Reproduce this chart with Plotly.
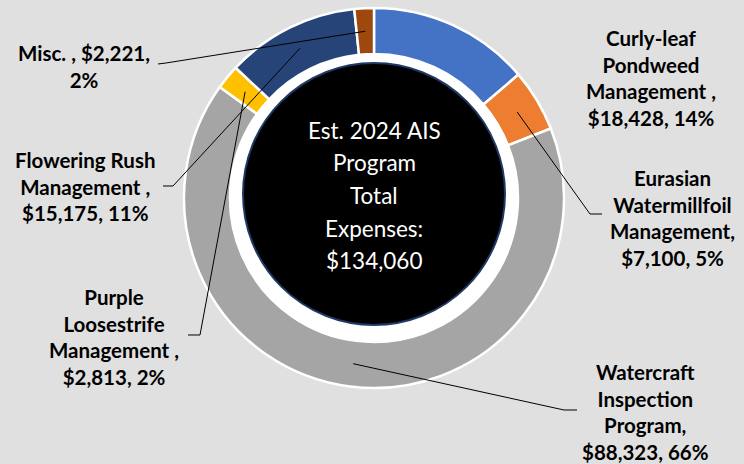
import math
import plotly.graph_objects as go

# ---------------- data ----------------
categories = ["Curly-leaf Pondweed Management ", "Eurasian Watermillfoil Management",
              "Watercraft Inspection Program", "Purple Loosestrife Management ",
              "Flowering Rush Management ", "Misc. "]
values = [18428, 7100, 88323, 2813, 15175, 2221]
colors = ["#4472C4", "#ED7D31", "#A5A5A5", "#FFC000", "#264478", "#9E480E"]
center_lines = ["Est. 2024 AIS", "Program", "Total", "Expenses:", "$134,060"]

# ---------------- layout helpers ----------------
W, H = 744, 464
CX, CY, R_OUT, R_IN = 374, 198, 190, 144


def px(x):
    return x / W


def py(y):
    return 1 - y / H


total = sum(values)
pcts = [round(v / total * 100) for v in values]

label_text = [
    "Curly-leaf<br>Pondweed<br>Management ,<br>${:,}, {}%".format(values[0], pcts[0]),
    "Eurasian<br>Watermillfoil<br>Management,<br>${:,}, {}%".format(values[1], pcts[1]),
    "Watercraft<br>Inspection<br>Program,<br>${:,}, {}%".format(values[2], pcts[2]),
    "Purple<br>Loosestrife<br>Management ,<br>${:,}, {}%".format(values[3], pcts[3]),
    "Flowering Rush<br>Management ,<br>${:,}, {}%".format(values[4], pcts[4]),
    "Misc. , ${:,},<br>{}%".format(values[5], pcts[5]),
]
# label centre positions (px) and leader elbow points (px)
label_pos = [(651, 78), (672, 218), (645, 412), (114, 337), (85, 187), (84, 66)]
elbows = [None,
          [(602, 214), (590, 214)],
          [(577, 410), (564, 410)],
          [(188, 335), (200, 335)],
          [(163, 186), (173, 186)],
          [(158, 64), (166, 63)]]

fig = go.Figure()
fig.add_trace(go.Pie(
    labels=categories, values=values, sort=False, direction="clockwise",
    rotation=0, hole=R_IN / R_OUT,
    marker=dict(colors=colors, line=dict(color="white", width=2.5)),
    textinfo="none", hoverinfo="label+value+percent", showlegend=False,
    domain=dict(x=[px(CX - R_OUT), px(CX + R_OUT)], y=[py(CY + R_OUT), py(CY - R_OUT)]),
))

shapes = []
# white band inside the ring
shapes.append(dict(type="circle", xref="paper", yref="paper", layer="below",
                   x0=px(CX - R_IN), x1=px(CX + R_IN), y0=py(CY + R_IN), y1=py(CY - R_IN),
                   fillcolor="white", line=dict(width=0)))
# black centre disk
BX, BY, BR = 374, 194, 131
shapes.append(dict(type="circle", xref="paper", yref="paper", layer="above",
                   x0=px(BX - BR), x1=px(BX + BR), y0=py(BY + BR), y1=py(BY - BR),
                   fillcolor="black", line=dict(color="#1F3864", width=2)))

# leader lines from slice mid-angle
cum = 0
r_mid = (R_OUT + R_IN) / 2
for i, v in enumerate(values):
    mid = (cum + v / 2) / total
    cum += v
    if elbows[i] is None:
        continue
    ang = mid * 2 * math.pi
    ax = CX + r_mid * math.sin(ang)
    ay = CY - r_mid * math.cos(ang)
    pts = elbows[i] + [(ax, ay)]
    path = "M " + " L ".join("{:.5f},{:.5f}".format(px(x), py(y)) for x, y in pts)
    shapes.append(dict(type="path", xref="paper", yref="paper", path=path,
                       line=dict(color="black", width=1), layer="above"))

annotations = []
for t, (x, y) in zip(label_text, label_pos):
    annotations.append(dict(text=t, x=px(x), y=py(y), xref="paper", yref="paper",
                            xanchor="center", yanchor="middle", showarrow=False,
                            align="center",
                            font=dict(family="Lato, Liberation Sans, sans-serif",
                                      size=20.5, color="black", weight="bold")))
center_y = [130, 163, 195, 228, 260]
for t, y in zip(center_lines, center_y):
    annotations.append(dict(text=t, x=px(BX), y=py(y), xref="paper", yref="paper",
                            xanchor="center", yanchor="middle", showarrow=False,
                            font=dict(family="Lato, Liberation Sans, sans-serif",
                                      size=22.5, color="white")))

fig.update_layout(
    width=W, height=H, margin=dict(l=0, r=0, t=0, b=0),
    paper_bgcolor="#E0E0E0", plot_bgcolor="#E0E0E0",
    shapes=shapes, annotations=annotations,
)
fig.write_html("out.html", config={"displayModeBar": False},
               post_script="document.body.style.margin='0';document.body.style.overflow='hidden';")
